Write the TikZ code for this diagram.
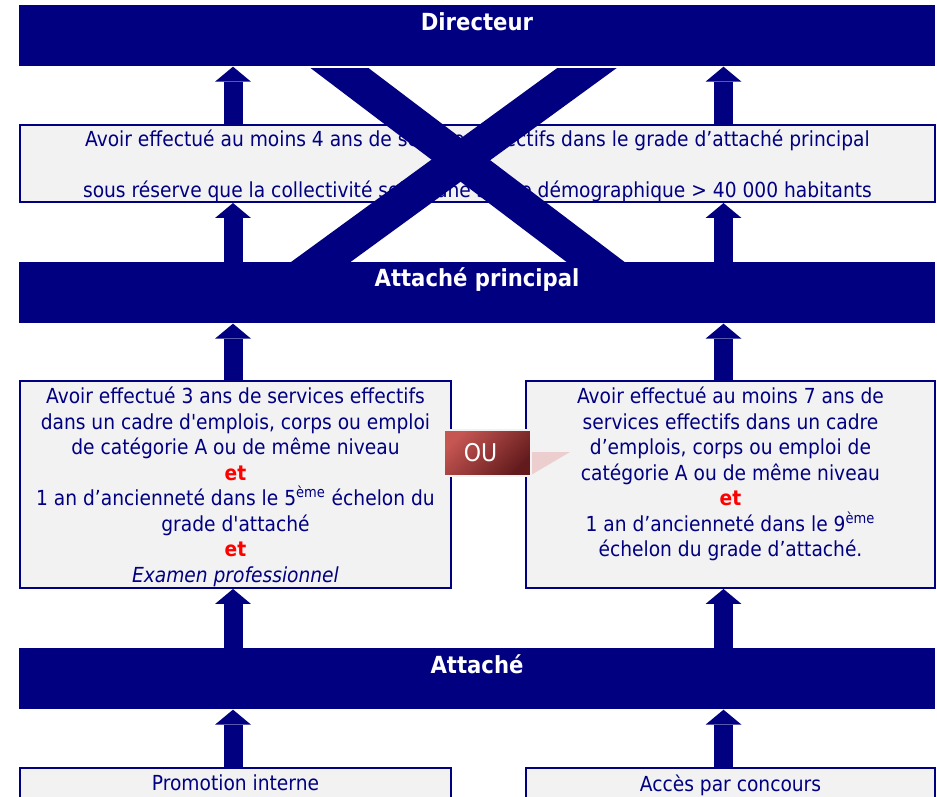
\documentclass[tikz,border=0pt]{standalone}
\usepackage{fontspec}
\setmainfont{DejaVu Sans Condensed}
\usetikzlibrary{arrows.meta}
\definecolor{navy}{RGB}{0,0,128}
\definecolor{boxgrey}{RGB}{242,242,242}
\definecolor{etred}{RGB}{255,0,0}
\definecolor{ouLight}{RGB}{198,86,82}
\definecolor{ouDark}{RGB}{98,26,28}
\definecolor{ouShadow}{RGB}{236,206,206}
\newcommand{\etword}{\textcolor{etred}{\textbf{et}}}

\begin{document}
\begin{tikzpicture}[
        x=0.02cm, y=-0.02cm,
        bar/.style={fill=navy, minimum width=18.32cm, minimum height=1.22cm, inner sep=0pt, anchor=north},
        title/.style={text=white, anchor=base, font=\fontsize{13.4}{16}\selectfont\bfseries},
        cond/.style={draw=navy, line width=0.04cm, fill=boxgrey, text=navy, align=center, inner sep=0pt,
            text depth=0pt, font=\fontsize{11.8}{14.52}\selectfont},
        blockarrow/.style={draw=navy, line width=0.38cm, -{Triangle[length=0.3cm, width=0.72cm, line width=0pt]}},
        cross/.style={draw=navy, line width=0.7cm},
        orbox/.style={draw=black!5, line width=0.05cm, inner sep=0pt, minimum width=1.74cm, minimum height=0.92cm,
            top color=ouLight, bottom color=ouDark, shading angle=45, text=white, font=\fontsize{13.9}{16}\selectfont}
    ]
        \useasboundingbox (0,0) rectangle (937,796);
        \clip (0,0) rectangle (937,796);

        % Grades
        \node[bar] (dir) at (477,5) {};
        \node[bar] (attp) at (477,262) {};
        \node[bar] (att) at (477,648) {};
        \node[title] (dirT) at (477,30.5) {Directeur};
        \node[title] (attpT) at (477,286) {Attaché principal};
        \node[title] (attT) at (477,673) {Attaché};

        % Conditions
        \node[cond, minimum width=18.3cm, minimum height=1.54cm] (cond) at (477.5,163.5)
            {Avoir effectué au moins 4 ans de services effectifs dans le grade d’attaché principal\\[14.52pt]
             sous réserve que la collectivité soit d’une strate démographique > 40 000 habitants};
        \node[cond, minimum width=8.62cm, minimum height=4.14cm] (condA) at (235.5,484.5)
            {Avoir effectué 3 ans de services effectifs\\
             dans un cadre d\textquotesingle emplois, corps ou emploi\\
             de catégorie A ou de même niveau\\
             \etword\\
             1 an d’ancienneté dans le 5\textsuperscript{ème} échelon du\\
             grade d\textquotesingle attaché\\
             \etword\\
             \textit{Examen professionnel}};
        \node[cond, minimum width=8.18cm, minimum height=4.14cm] (condB) at (730.5,484.5)
            {Avoir effectué au moins 7 ans de\\
             services effectifs dans un cadre\\
             d’emplois, corps ou emploi de\\
             catégorie A ou de même niveau\\
             \etword\\
             1 an d’ancienneté dans le 9\textsuperscript{ème}\\
             échelon du grade d’attaché.\\
             \mbox{}};
        \node[cond, minimum width=8.62cm, minimum height=0.6cm] (promo) at (235.5,783) {Promotion interne};
        \node[cond, minimum width=8.18cm, minimum height=0.6cm] (concours) at (730.5,783) {Accès par concours};

        % OU
        \fill[ouShadow] (531,452) -- (570,452) -- (531,475) -- cycle;
        \node[orbox] (ou) at (487.5,453) {OU\hspace*{0.28cm}};

        % Fleches
        \coordinate (colL) at (233,0);
        \coordinate (colR) at (723.5,0);
        \foreach \c in {colL, colR} {
            \draw[blockarrow] (cond.north -| \c) -- (dir.south -| \c);
            \draw[blockarrow] (attp.north -| \c) -- (cond.south -| \c);
        }
        \draw[blockarrow] (condA.north -| colL) -- (attp.south -| colL);
        \draw[blockarrow] (condB.north -| colR) -- (attp.south -| colR);
        \draw[blockarrow] (att.north -| colL) -- (condA.south -| colL);
        \draw[blockarrow] (att.north -| colR) -- (condB.south -| colR);
        \draw[blockarrow] (promo.north -| colL) -- (att.south -| colL);
        \draw[blockarrow] (concours.north -| colR) -- (att.south -| colR);

        % Croix
        \begin{scope}
            \clip (0,68) rectangle (937,261);
            \draw[cross] (302.5,40) -- (632.6,290);
            \draw[cross] (625.4,40) -- (282.3,290);
        \end{scope}

    \end{tikzpicture}
\end{document}
